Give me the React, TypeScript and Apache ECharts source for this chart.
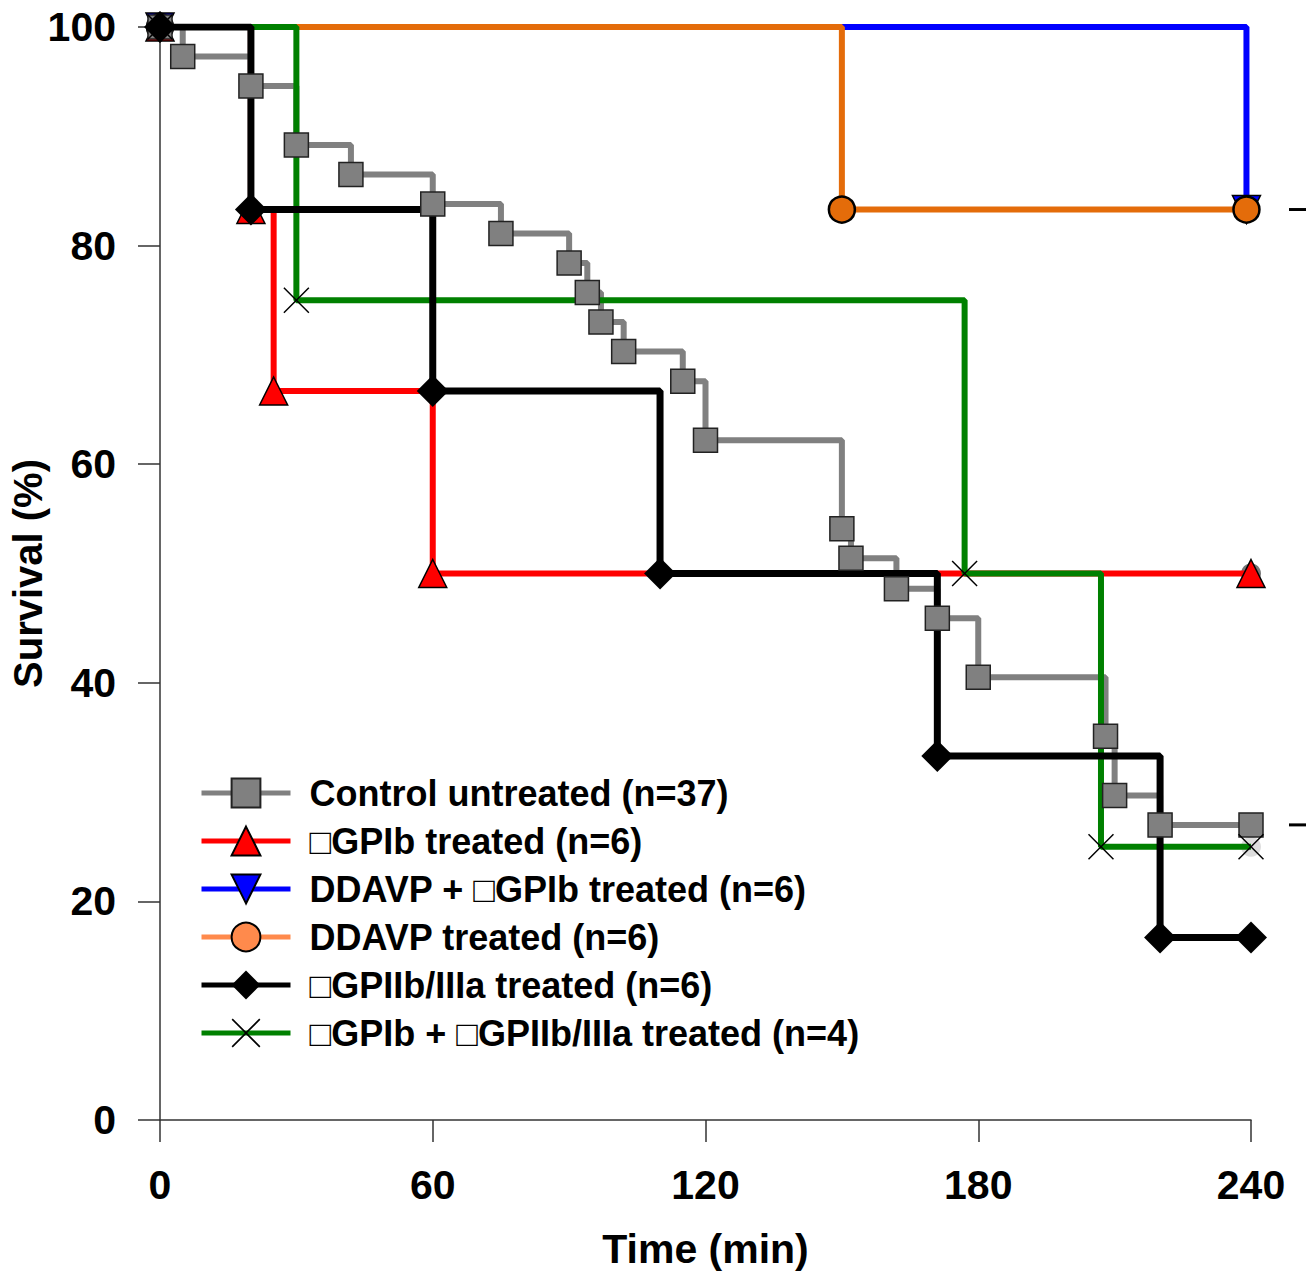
import React, { useEffect, useRef } from "react";
import * as echarts from "echarts";

const A = "\u25A1";
const names = [
  "Control untreated (n=37)",
  `${A}GPIb treated (n=6)`,
  `DDAVP + ${A}GPIb treated (n=6)`,
  "DDAVP treated (n=6)",
  `${A}GPIIb/IIIa treated (n=6)`,
  `${A}GPIb + ${A}GPIIb/IIIa treated (n=4)`,
];

const controlTime = [0, 5, 20, 30, 42, 60, 75, 90, 94, 97, 102, 115, 120, 150, 152, 162, 171, 180, 208, 210, 220, 240];
const controlSurv = [100, 97.3, 94.6, 89.2, 86.5, 83.8, 81.1, 78.4, 75.7, 73.0, 70.3, 67.6, 62.2, 54.1, 51.4, 48.6, 45.9, 40.5, 35.1, 29.7, 27.0, 27.0];

const gpibTime = [0, 20, 25, 60, 240];
const gpibSurv = [100, 83.3, 66.7, 50, 50];

const ddavpGpibTime = [0, 239];
const ddavpGpibSurv = [100, 83.3];

const ddavpTime = [0, 150, 239];
const ddavpSurv = [100, 83.3, 83.3];

const gpiibTime = [0, 20, 60, 110, 171, 220, 240];
const gpiibSurv = [100, 83.3, 66.7, 50, 33.3, 16.7, 16.7];

const comboTime = [0, 30, 177, 207, 240];
const comboSurv = [100, 75, 50, 25, 25];

const censorTime = [240, 240, 240];
const censorSurv = [27.0, 25, 50];
const censorColors = ["#000000", "#d4d4d4", "#555555"];

const rightMarks = [83.3, 27.0];

const xTicks = [0, 60, 120, 180, 240];
const yTicks = [0, 20, 40, 60, 80, 100];

const FONT = "'Liberation Sans', Arial, Helvetica, sans-serif";
const X_PATH =
  "path://M0,0.4L0.4,0L5,4.6L9.6,0L10,0.4L5.4,5L10,9.6L9.6,10L5,5.4L0.4,10L0,9.6L4.6,5Z";

const pairs = (t: number[], s: number[]) => t.map((x, i) => [x, s[i]]);

function km(
  name: string,
  t: number[],
  s: number[],
  color: string,
  width: number,
  symbol: string,
  size: number | number[],
  itemStyle: any,
  extra: any = {}
) {
  return {
    type: "line",
    name,
    data: pairs(t, s),
    step: "end",
    lineStyle: { color, width },
    symbol,
    symbolSize: size,
    showSymbol: true,
    showAllSymbol: true,
    itemStyle,
    emphasis: { disabled: true },
    ...extra,
  };
}

export default function App() {
  const ref = useRef<HTMLDivElement>(null);
  useEffect(() => {
    document.body.style.margin = "0";
    const chart = echarts.init(ref.current!, undefined, { renderer: "svg" });
    const axisColor = "#333333";
    const option: any = {
      animation: false,
      backgroundColor: "#ffffff",
      grid: { left: 160, right: 55, top: 27, bottom: 154, containLabel: false, outerBoundsMode: "none" },
      xAxis: {
        type: "value",
        min: xTicks[0],
        max: xTicks[xTicks.length - 1],
        interval: xTicks[1] - xTicks[0],
        name: "Time (min)",
        nameLocation: "middle",
        nameGap: 108,
        nameMoveOverlap: false,
        nameTextStyle: { fontFamily: FONT, fontWeight: "bold", fontSize: 41, color: "#000" },
        axisLine: { show: true, lineStyle: { color: axisColor, width: 1.5 } },
        axisTick: { show: true, inside: false, length: 22, lineStyle: { color: axisColor, width: 1.5 } },
        axisLabel: { margin: 44, fontFamily: FONT, fontWeight: "bold", fontSize: 41, color: "#000" },
        splitLine: { show: false },
      },
      yAxis: {
        type: "value",
        min: yTicks[0],
        max: yTicks[yTicks.length - 1],
        interval: yTicks[1] - yTicks[0],
        name: "Survival (%)",
        nameLocation: "middle",
        nameGap: 112,
        nameMoveOverlap: false,
        nameRotate: 90,
        nameTextStyle: { fontFamily: FONT, fontWeight: "bold", fontSize: 40, color: "#000" },
        axisLine: { show: true, lineStyle: { color: axisColor, width: 1.5 } },
        axisTick: { show: true, inside: false, length: 22, lineStyle: { color: axisColor, width: 1.5 } },
        axisLabel: { margin: 44, fontFamily: FONT, fontWeight: "bold", fontSize: 41, color: "#000" },
        splitLine: { show: false },
      },
      legend: {
        orient: "vertical",
        left: 199,
        top: 775,
        padding: 0,
        itemWidth: 89,
        itemHeight: 36,
        itemGap: 12,
        selectedMode: false,
        lineStyle: { width: 5 },
        textStyle: {
          fontFamily: FONT,
          fontWeight: "bold",
          fontSize: 36,
          color: "#000",
          padding: [0, 0, 0, 14],
        },
        data: [
          { name: names[0] },
          { name: names[1] },
          { name: names[2] },
          {
            name: names[3],
            lineStyle: { color: "#FF8A4C", width: 5 },
            itemStyle: { color: "#FF8A4C", borderColor: "#000", borderWidth: 2 },
          },
          { name: names[4] },
          { name: names[5] },
        ],
      },
      series: [
        km(names[2], ddavpGpibTime, ddavpGpibSurv, "#0000ff", 6, "triangle", 28,
          { color: "#0000ff", borderColor: "#000", borderWidth: 1.5 }, { symbolRotate: 180 }),
        km(names[3], ddavpTime, ddavpSurv, "#E46C0A", 6, "circle", 26,
          { color: "#E46C0A", borderColor: "#000", borderWidth: 2.5 }),
        km(names[1], gpibTime, gpibSurv, "#ff0000", 6, "triangle", 28,
          { color: "#ff0000", borderColor: "#000", borderWidth: 1.5 }),
        km(names[0], controlTime, controlSurv, "#808080", 6, "rect", 24,
          { color: "#808080", borderColor: "#222", borderWidth: 1.5 }),
        km(names[5], comboTime, comboSurv, "#008000", 6, X_PATH, 26,
          { color: "#000000", borderWidth: 0 }),
        km(names[4], gpiibTime, gpiibSurv, "#000000", 7, "diamond", 32,
          { color: "#000000", borderWidth: 0 }),
        {
          type: "scatter",
          name: "censored",
          symbol: "circle",
          symbolSize: 20,
          emphasis: { disabled: true },
          data: censorTime.map((x, i) => ({
            value: [x, censorSurv[i]],
            itemStyle: { color: censorColors[i] },
          })),
        },
      ],
    };
    chart.setOption(option);
    const rightX = 1306 - 55;
    chart.setOption({
      graphic: rightMarks.map((v) => {
        const y = chart.convertToPixel({ yAxisIndex: 0 }, v) as number;
        return {
          type: "line",
          shape: { x1: rightX + 38, y1: y, x2: rightX + 56, y2: y },
          style: { stroke: "#000", lineWidth: 3 },
        };
      }),
    });
    return () => chart.dispose();
  }, []);
  return <div ref={ref} style={{ width: 1306, height: 1274 }} />;
}
